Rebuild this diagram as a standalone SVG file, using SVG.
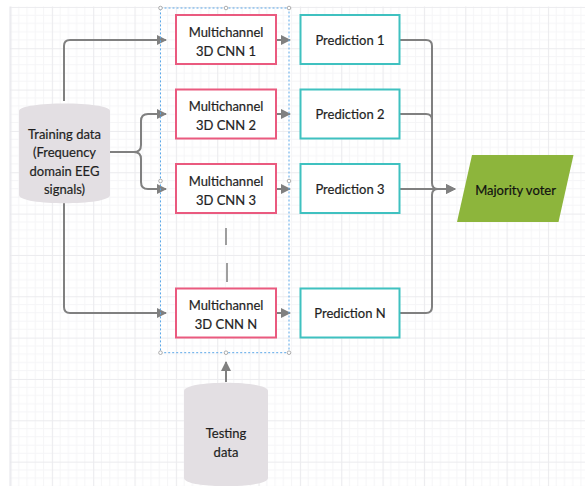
<svg xmlns="http://www.w3.org/2000/svg" width="585" height="486" viewBox="0 0 585 486">
<style>
.lbl{font-family:Lato,"Liberation Sans",sans-serif;font-size:13px;fill:#1f1f1f;text-anchor:middle;stroke:#1f1f1f;stroke-width:0.2}
.cnn{fill:#fff;stroke:#ea5a7f;stroke-width:2}
.pred{fill:#fff;stroke:#3fc1c0;stroke-width:2}
.cyl{fill:#e3dfe3;stroke:none}
.conn{fill:none;stroke:#808080;stroke-width:2}
.handle{fill:#fff;stroke:#999;stroke-width:0.8}
</style>
<defs>
<pattern id="grid" patternUnits="userSpaceOnUse" x="10.5" y="6.9" width="41.34" height="41.34">
<g stroke="#f5f5f7" stroke-width="1">
<line x1="8.27" y1="0" x2="8.27" y2="41.34"/><line x1="16.54" y1="0" x2="16.54" y2="41.34"/><line x1="24.8" y1="0" x2="24.8" y2="41.34"/><line x1="33.07" y1="0" x2="33.07" y2="41.34"/>
<line y1="8.27" x1="0" y2="8.27" x2="41.34"/><line y1="16.54" x1="0" y2="16.54" x2="41.34"/><line y1="24.8" x1="0" y2="24.8" x2="41.34"/><line y1="33.07" x1="0" y2="33.07" x2="41.34"/>
</g>
<path d="M0.5,0 V41.34 M0,0.5 H41.34" stroke="#ebebee" stroke-width="1.2"/>
</pattern>
<marker id="arr" viewBox="0 0 10 10" refX="9" refY="5" markerWidth="5" markerHeight="5" orient="auto" markerUnits="strokeWidth">
<path d="M0,0 L10,5 L0,10 Z" fill="#808080"/>
</marker>
</defs>
<rect width="585" height="486" fill="#fff"/>
<rect x="10" y="6.5" width="575" height="479.5" fill="url(#grid)"/>
<line x1="10" y1="6.5" x2="10" y2="486" stroke="#e4e4ea" stroke-width="1"/>

<g id="connectors">
<path class="conn" d="M64,101 V46 Q64,40 70,40 H166" marker-end="url(#arr)"/>
<path class="conn" d="M110,152 H134 Q141,152 141,145 V121 Q141,114 148,114 H166" marker-end="url(#arr)"/>
<path class="conn" d="M134,152 Q141,152 141,159 V182 Q141,189 148,189 H166" marker-end="url(#arr)"/>
<path class="conn" d="M64,203 V307 Q64,313 70,313 H166" marker-end="url(#arr)"/>
<path class="conn" d="M276,40 H290" marker-end="url(#arr)"/>
<path class="conn" d="M276,114 H290" marker-end="url(#arr)"/>
<path class="conn" d="M276,189 H290" marker-end="url(#arr)"/>
<path class="conn" d="M276,313 H290" marker-end="url(#arr)"/>
<path class="conn" d="M400,40 H426 Q432,40 432,46 V183 Q432,189 438,189 H455" marker-end="url(#arr)"/>
<path class="conn" d="M400,114 H426 Q432,114 432,120 V183"/>
<path class="conn" d="M400,189 H455" marker-end="url(#arr)"/>
<path class="conn" d="M400,313 H426 Q432,313 432,307 V195 Q432,189 438,189"/>
<path class="conn" d="M226,382 V362" marker-end="url(#arr)"/>
<path d="M226,228 V245 M227,263 V282" stroke="#808080" stroke-width="1.5" fill="none"/>
</g>

<g id="selection">
<rect x="160.5" y="8" width="128.5" height="344.7" fill="none" stroke="#5aa7e8" stroke-width="1" stroke-dasharray="2,2"/>
<circle class="handle" cx="160.5" cy="8" r="1.8"/><circle class="handle" cx="226" cy="8" r="1.8"/><circle class="handle" cx="289" cy="8" r="1.8"/>
<circle class="handle" cx="160.5" cy="181" r="1.8"/><circle class="handle" cx="289" cy="181" r="1.8"/>
<circle class="handle" cx="160.5" cy="352.7" r="1.8"/><circle class="handle" cx="226" cy="352.7" r="1.8"/><circle class="handle" cx="289" cy="352.7" r="1.8"/>
</g>

<g id="training-data">
<path class="cyl" d="M19,111 C19,101 110,101 110,111 V195 C110,206 19,206 19,195 Z"/>
<text class="lbl" x="64.5" y="138.5">Training data</text>
<text class="lbl" x="64.5" y="157">(Frequency</text>
<text class="lbl" x="64.5" y="175.5">domain EEG</text>
<text class="lbl" x="64.5" y="194">signals)</text>
</g>

<g id="cnn1"><rect class="cnn" x="176" y="15" width="100" height="49"/><text class="lbl" x="226" y="36.8">Multichannel</text><text class="lbl" x="226" y="55.5">3D CNN 1</text></g>
<g id="cnn2"><rect class="cnn" x="176" y="89.5" width="100" height="49"/><text class="lbl" x="226" y="111.3">Multichannel</text><text class="lbl" x="226" y="130">3D CNN 2</text></g>
<g id="cnn3"><rect class="cnn" x="176" y="164" width="100" height="49"/><text class="lbl" x="226" y="185.8">Multichannel</text><text class="lbl" x="226" y="204.5">3D CNN 3</text></g>
<g id="cnnN"><rect class="cnn" x="176" y="288.5" width="100" height="49"/><text class="lbl" x="226" y="310.3">Multichannel</text><text class="lbl" x="226" y="329">3D CNN N</text></g>

<g id="pred1"><rect class="pred" x="300.5" y="15" width="99" height="49"/><text class="lbl" x="350" y="44.5">Prediction 1</text></g>
<g id="pred2"><rect class="pred" x="300.5" y="89.5" width="99" height="49"/><text class="lbl" x="350" y="119">Prediction 2</text></g>
<g id="pred3"><rect class="pred" x="300.5" y="164" width="99" height="49"/><text class="lbl" x="350" y="193.5">Prediction 3</text></g>
<g id="predN"><rect class="pred" x="300.5" y="288.5" width="99" height="49"/><text class="lbl" x="350" y="318">Prediction N</text></g>

<g id="majority-voter">
<path d="M472,155 L573.5,155 L558.5,222 L457,222 Z" fill="#8db53c"/>
<text class="lbl" x="515.5" y="194.5" style="fill:#111;stroke:#111">Majority voter</text>
</g>

<g id="testing-data">
<path class="cyl" d="M184,391 C184,380 268,380 268,391 V478 C268,489 184,489 184,478 Z"/>
<text class="lbl" x="226" y="437.5">Testing</text>
<text class="lbl" x="226" y="456.5">data</text>
</g>
</svg>
